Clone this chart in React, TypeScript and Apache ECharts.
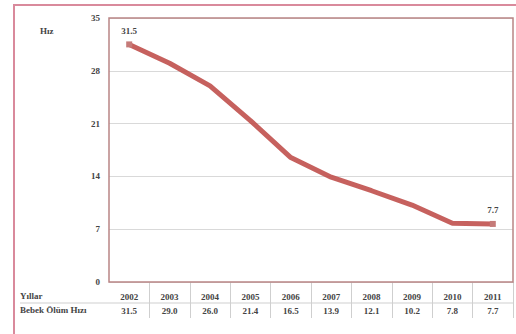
import React, { useEffect, useRef } from "react";
import * as echarts from "echarts";

const years = ["2002", "2003", "2004", "2005", "2006", "2007", "2008", "2009", "2010", "2011"];
const rates = [31.5, 29.0, 26.0, 21.4, 16.5, 13.9, 12.1, 10.2, 7.8, 7.7];
const yTicks = { min: 0, max: 35, interval: 7 };
const rowLabels = ["Yıllar", "Bebek Ölüm Hızı"];
const yTitle = "Hız";

const FONT = "Liberation Serif";

export default function App() {
  const ref = useRef<HTMLDivElement>(null);
  useEffect(() => {
    if (!ref.current) return;
    const chart = echarts.init(ref.current, null, { renderer: "svg" });
    const last = rates.length - 1;
    chart.setOption({
      animation: false,
      backgroundColor: "#ffffff",
      textStyle: { fontFamily: FONT },
      grid: { left: 109, top: 18, right: 3, bottom: 52 },
      xAxis: {
        type: "category",
        data: years,
        boundaryGap: true,
        axisLine: { show: false },
        axisTick: {
          show: true,
          length: 36,
          lineStyle: { color: "#cfcfcf", width: 1 },
          interval: (i: number) => i !== 0,
        },
        axisLabel: {
          interval: 0,
          margin: 8,
          formatter: (v: string, i: number) => `{y|${v}}\n{v|${rates[i].toFixed(1)}}`,
          rich: {
            y: { fontFamily: FONT, fontSize: 9, fontWeight: "bold", color: "#444", lineHeight: 14 },
            v: { fontFamily: FONT, fontSize: 9, fontWeight: "bold", color: "#444", lineHeight: 14 },
          },
        },
      },
      yAxis: {
        type: "value",
        min: yTicks.min,
        max: yTicks.max,
        interval: yTicks.interval,
        axisLine: { show: false },
        axisTick: { show: false },
        axisLabel: { margin: 9, fontFamily: FONT, fontSize: 9, fontWeight: "bold", color: "#444" },
        splitLine: { lineStyle: { color: "#d9d9d9", width: 1 } },
      },
      series: [
        {
          type: "line",
          z: 5,
          data: rates.map((r, i) => ({
            value: r,
            symbol: i === 0 || i === last ? "rect" : "none",
            symbolSize: 6,
            label: {
              show: i === 0 || i === last,
              position: "top",
              distance: 6,
              formatter: String(r),
              fontFamily: FONT,
              fontSize: 9,
              fontWeight: "bold",
              color: "#444",
            },
          })),
          showSymbol: true,
          lineStyle: { color: "#c0504d", width: 5, opacity: 0.9 },
          itemStyle: { color: "#c57a78" },
        },
      ],
      graphic: [
        {
          type: "rect",
          shape: { x: 14, y: 5, width: 540, height: 360 },
          style: { fill: "none", stroke: "#d98a9c", lineWidth: 2 },
          silent: true,
          z: 3,
        },
        {
          type: "rect",
          shape: { x: 109, y: 18, width: 404, height: 264 },
          style: { fill: "none", stroke: "#b98585", lineWidth: 1.5 },
          silent: true,
          z: 3,
        },
        {
          type: "line",
          shape: { x1: 20, y1: 303, x2: 513, y2: 303 },
          style: { stroke: "#cfcfcf", lineWidth: 1 },
          z: 3,
        },
        {
          type: "text",
          x: 40,
          y: 31,
          style: { text: yTitle, fontFamily: FONT, fontSize: 9, fontWeight: "bold", fill: "#444", textVerticalAlign: "middle" },
        },
        {
          type: "text",
          x: 20,
          y: 296,
          style: { text: rowLabels[0], fontFamily: FONT, fontSize: 9, fontWeight: "bold", fill: "#444", textVerticalAlign: "middle" },
        },
        {
          type: "text",
          x: 20,
          y: 310,
          style: { text: rowLabels[1], fontFamily: FONT, fontSize: 9, fontWeight: "bold", fill: "#444", textVerticalAlign: "middle" },
        },
      ],
    });
    return () => chart.dispose();
  }, []);
  return (
    <div
      ref={ref}
      style={{ position: "absolute", left: 0, top: 0, width: 516, height: 334 }}
    />
  );
}
